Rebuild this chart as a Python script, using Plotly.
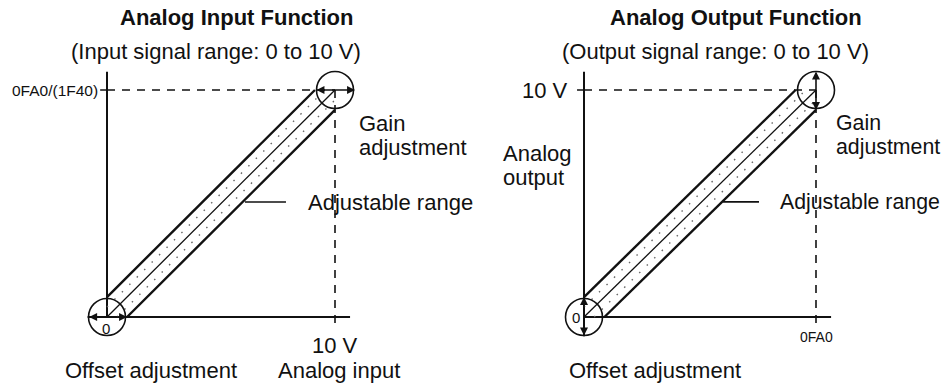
import plotly.graph_objects as go

W, H = 942, 384

# ---------------- data ----------------
in_volts = [0, 10]          # analog input range, V
in_digital = [0, 4000]      # converted value range (0FA0 hex)
in_shift = 0.88             # adjustable width of offset / gain, V
out_digital = [0, 4000]     # set value range (0FA0 hex)
out_volts = [0, 10]         # analog output range, V
out_shift = 0.88            # adjustable width of offset / gain, V

ink = "#111111"
FONT = "Liberation Sans, Arial, Helvetica, sans-serif"
FS = 22


def dom(p0, p1, v0, v1, r0, r1, total, flip=False):
    s = (p1 - p0) / (v1 - v0)
    a = p0 + (r0 - v0) * s
    b = p0 + (r1 - v0) * s
    if flip:
        return [(total - a) / total, (total - b) / total]
    return [a / total, b / total]


# axis ranges / domains (pixel anchors)
xr1 = [-1.5, 11.5]
yr1 = [-1000, 4700]
xr2 = [-600, 4600]
yr2 = [-2.5, 11.8]
xd1 = dom(107, 335, 0, 10, xr1[0], xr1[1], W)
yd1 = dom(317, 90, 0, 4000, yr1[0], yr1[1], H, flip=True)
xd2 = dom(584, 816, 0, 4000, xr2[0], xr2[1], W)
yd2 = dom(317, 90, 0, 10, yr2[0], yr2[1], H, flip=True)

fig = go.Figure()


def line(x, y, xa, ya, width=2, dash=None, color=ink):
    fig.add_trace(go.Scatter(x=x, y=y, xaxis=xa, yaxis=ya, mode="lines",
                             line=dict(color=color, width=width, dash=dash),
                             showlegend=False, hoverinfo="skip"))


DASH = "8px,7px"
DOT = "1.5px,9px"

# ---------- left panel: analog input ----------
xm, ym = in_volts[1], in_digital[1]
s = in_shift
k = ym / xm
line([0, 0], [0, ym * 1.08], "x", "y")                      # y axis
line([-0.85, xm * 1.066], [0, 0], "x", "y")                 # x axis
line([-0.3, 0], [ym, ym], "x", "y", width=1.5)              # tick
line([0, xm], [ym, ym], "x", "y", width=1.6, dash=DASH)
line([xm, xm], [ym, -150], "x", "y", width=1.6, dash=DASH)
line(in_volts, in_digital, "x", "y", width=1.3)
line([0, xm - s], [k * s, ym], "x", "y", width=2.4)
line([s, xm], [0, k * (xm - s)], "x", "y", width=2.4)
line([0, xm - s / 2], [k * s / 2, ym], "x", "y", width=1.4, dash=DOT, color="#666")
line([s / 2, xm], [0, k * (xm - s / 2)], "x", "y", width=1.4, dash=DOT, color="#666")
line([6.05, 7.85], [2026, 2026], "x", "y", width=1.6)        # leader

# ---------- right panel: analog output ----------
xm2, ym2 = out_digital[1], out_volts[1]
s2 = out_shift
k2 = ym2 / xm2
line([0, 0], [-0.85, ym2 * 1.08], "x2", "y2")
line([0, xm2 * 1.065], [0, 0], "x2", "y2")
line([-120, 0], [ym2, ym2], "x2", "y2", width=1.5)
line([0, xm2], [ym2, ym2], "x2", "y2", width=1.6, dash=DASH)
line([xm2, xm2], [ym2, -0.35], "x2", "y2", width=1.6, dash=DASH)
line(out_digital, out_volts, "x2", "y2", width=1.3)
line([0, (ym2 - s2) / k2], [s2, ym2], "x2", "y2", width=2.4)
line([s2 / k2, xm2], [0, ym2 - s2], "x2", "y2", width=2.4)
line([0, (ym2 - s2 / 2) / k2], [s2 / 2, ym2], "x2", "y2", width=1.4, dash=DOT, color="#666")
line([s2 / 2 / k2, xm2], [0, ym2 - s2 / 2], "x2", "y2", width=1.4, dash=DOT, color="#666")
line([2397, 3017], [5.07, 5.07], "x2", "y2", width=1.6)

# circles
rpx = 18.5
shapes = []
for (cx, cy, xa, ya, sx, sy) in [
    (0, 0, "x", "y", 22.8, 0.05675), (xm, ym, "x", "y", 22.8, 0.05675),
    (0, 0, "x2", "y2", 0.058, 22.7), (xm2, ym2, "x2", "y2", 0.058, 22.7)]:
    rx, ry = rpx / sx, rpx / sy
    shapes.append(dict(type="circle", xref=xa, yref=ya, x0=cx - rx, x1=cx + rx,
                       y0=cy - ry, y1=cy + ry, line=dict(color=ink, width=1.6)))

ann = []


def arrow(x0, y0, x1, y1, xa, ya):
    ann.append(dict(x=x1, y=y1, ax=x0, ay=y0, xref=xa, yref=ya, axref=xa, ayref=ya,
                    text="", showarrow=True, arrowhead=2, arrowside="end+start",
                    arrowsize=1, arrowwidth=1.6, arrowcolor=ink))


arrow(-0.85, 0, s, 0, "x", "y")
arrow(xm - s, ym, xm + s, ym, "x", "y")
arrow(0, -s2, 0, s2, "x2", "y2")
arrow(xm2, ym2 + s2, xm2, ym2 - s2, "x2", "y2")


def text(t, px, py, size=FS, xanchor="center", bold=False):
    ann.append(dict(text=("<b>%s</b>" % t) if bold else t,
                    x=px / W, y=1 - py / H,
                    xref="paper", yref="paper", xanchor=xanchor, yanchor="middle",
                    showarrow=False, font=dict(family=FONT, size=size, color=ink)))


# left texts
text("Analog Input Function", 236, 17, bold=True)
text("(Input signal range: 0 to 10 V)", 216, 52)
text("0FA0/(1F40)", 100, 90, size=15.5, xanchor="right")
text("Gain", 357, 123, xanchor="left")
text("adjustment", 357, 147, xanchor="left")
text("Adjustable range", 306, 202, xanchor="left")
text("0", 106, 328, size=15)
text("10 V", 335, 345)
text("Offset adjustment", 151, 370)
text("Analog input", 339, 370)

# right texts
text("Analog Output Function", 736, 17, bold=True)
text("(Output signal range: 0 to 10 V)", 715, 52)
text("10 V", 570, 90, xanchor="right")
text("Analog", 501, 153, xanchor="left")
text("output", 501, 177, xanchor="left")
text("Gain", 834, 123, size=21.3, xanchor="left")
text("adjustment", 834, 147, size=21.3, xanchor="left")
text("Adjustable range", 778, 202, size=21.3, xanchor="left")
text("0", 576, 317, size=15)
text("0FA0", 816, 337, size=14)
text("Offset adjustment", 655, 370)

ax_common = dict(visible=False, fixedrange=True)
fig.update_layout(
    width=W, height=H, margin=dict(l=0, r=0, t=0, b=0),
    paper_bgcolor="white", plot_bgcolor="white",
    xaxis=dict(domain=xd1, range=xr1, anchor="y", **ax_common),
    yaxis=dict(domain=yd1, range=yr1, anchor="x", **ax_common),
    xaxis2=dict(domain=xd2, range=xr2, anchor="y2", **ax_common),
    yaxis2=dict(domain=yd2, range=yr2, anchor="x2", **ax_common),
    shapes=shapes, annotations=ann, showlegend=False,
)

# remove the browser's default 8px body margin so the figure fills the window
fig.write_html("out.html", config={"displayModeBar": False, "staticPlot": True},
               post_script="document.body.style.margin='0';document.body.style.overflow='hidden';")
